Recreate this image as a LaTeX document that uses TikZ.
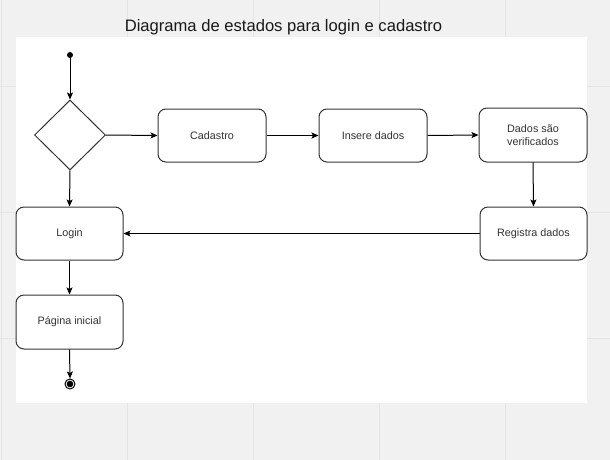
\documentclass[tikz,border=0pt]{standalone}
\usepackage{fontspec}
\setmainfont{Liberation Sans}
\usetikzlibrary{shapes.geometric,arrows.meta}
\definecolor{bggray}{HTML}{F1F1F1}
\definecolor{gridgray}{HTML}{E4E4E4}
\definecolor{strokegray}{HTML}{333333}
\definecolor{textgray}{HTML}{333333}
\tikzset{
  statebox/.style={draw=strokegray, line width=1pt, rounded corners=8pt, fill=white,
    minimum width=107pt, minimum height=53pt, inner sep=0pt, align=center,
    text=textgray, font=\fontsize{10.8}{13}\selectfont},
  choice/.style={draw=strokegray, line width=1pt, diamond, fill=white,
    minimum width=71pt, minimum height=70pt, inner sep=0pt},
  flow/.style={draw=black, line width=1pt, -{Stealth[length=7pt,width=6pt,inset=1.5pt]}},
  gridline/.style={draw=gridgray, line width=1pt}
}
\begin{document}
\begin{tikzpicture}[x=1pt,y=-1pt]
\useasboundingbox (0,0) rectangle (610,460);
\fill[bggray] (0,0) rectangle (610,460);
\foreach \gx in {1,127,253,379,505} \draw[gridline] (\gx,0) -- (\gx,460);
\foreach \gy in {86,212,338} \draw[gridline] (0,\gy) -- (610,\gy);
\fill[white] (16,37) rectangle (587,403);
\node[anchor=base, text=black!90, font=\fontsize{16.6}{20}\selectfont] (title) at (283.5,32) {Diagrama de estados para login e cadastro};
% nodes
\node[circle, fill=black, inner sep=0pt, minimum size=6pt] (start) at (70,55) {};
\node[choice] (dec) at (70,135) {};
\node[statebox, minimum width=108pt] (cad) at (212,135.5) {Cadastro};
\node[statebox, minimum width=108pt] (ins) at (373,135.5) {Insere dados};
\node[statebox, minimum width=108pt, minimum height=54pt] (ver) at (533,135) {Dados são\\verificados};
\node[statebox] (reg) at (533.5,233.5) {Registra dados};
\node[statebox] (login) at (69.5,233.5) {Login};
\node[statebox, minimum height=54pt] (home) at (69.5,322) {Página inicial};
\node[circle, draw=black, line width=1pt, fill=white, inner sep=0pt, minimum size=10pt] (end) at (70,384) {};
\fill[black] (end.center) circle (3.3pt);
% connectors
\draw[flow] (start) -- (dec.north);
\draw[flow] (dec.east) -- (cad.west);
\draw[flow] (cad.east) -- (ins.west);
\draw[flow] (ins.east) -- (ver.west);
\draw[flow] (ver.south) -- (reg.north);
\draw[flow] (reg.west) -- (login.east);
\draw[flow] (dec.south) -- (login.north);
\draw[flow] (login.south) -- (home.north);
\draw[flow] (home.south) -- (end.north);
\end{tikzpicture}
\end{document}
